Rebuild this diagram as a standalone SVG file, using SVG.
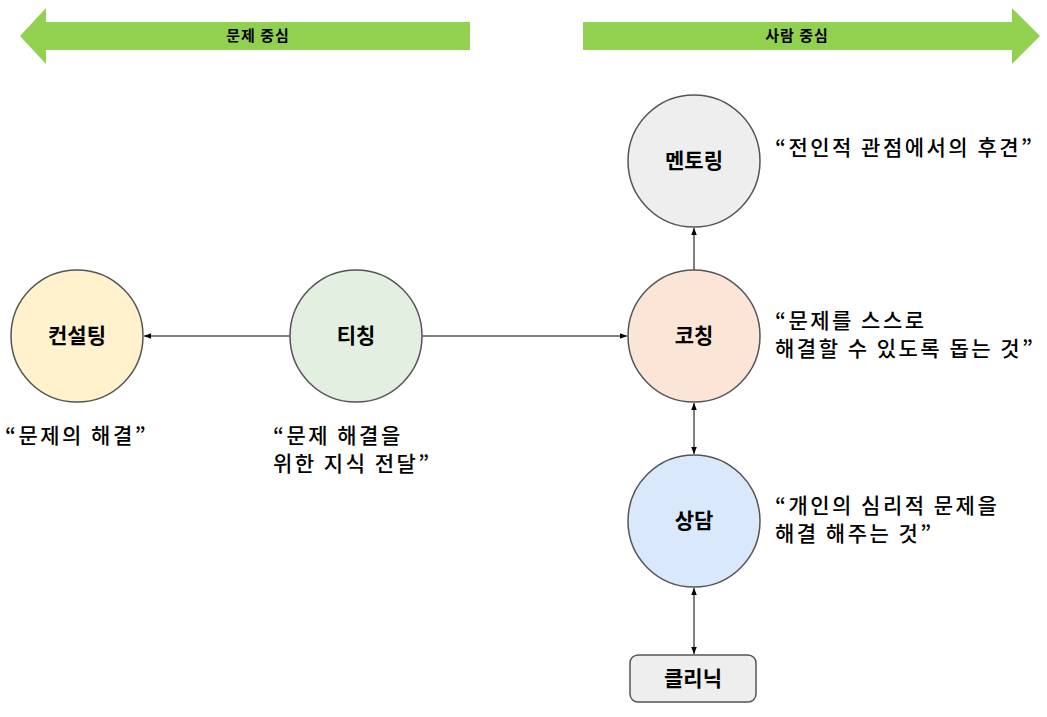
<svg xmlns="http://www.w3.org/2000/svg" width="1047" height="717" viewBox="0 0 1047 717">
<defs>
<marker id="ah" viewBox="0 0 10 10" refX="10" refY="5" markerWidth="7" markerHeight="7" orient="auto-start-reverse"><path d="M0,1 L10,5 L0,9 z" fill="#000"/></marker>
<style>
text{font-family:"Noto Sans CJK KR","Noto Sans",sans-serif;fill:#000}
.n{font-size:21px;font-weight:bold;text-anchor:middle}
.q{font-size:21px;letter-spacing:2.5px;font-weight:500}
.b{font-size:15px;font-weight:bold;text-anchor:middle;letter-spacing:1px}
.c{stroke:#555;stroke-width:1.5}
.e{stroke:#000;stroke-width:1;fill:none}
</style>
</defs>
<rect width="1047" height="717" fill="#fff"/>
<g id="band-left"><path d="M20,36 L46,8 L46,22 L470,22 L470,50 L46,50 L46,64 z" fill="#92d050"/><text class="b" x="258" y="41">문제 중심</text></g>
<g id="band-right"><path d="M1040,36 L1012,8 L1012,22 L583,22 L583,50 L1012,50 L1012,64 z" fill="#92d050"/><text class="b" x="797" y="41">사람 중심</text></g>
<g id="connectors">
<line class="e" x1="290" y1="336" x2="144" y2="336" marker-end="url(#ah)"/>
<line class="e" x1="422" y1="336" x2="627" y2="336" marker-end="url(#ah)"/>
<line class="e" x1="694" y1="270" x2="694" y2="228" marker-end="url(#ah)"/>
<line class="e" x1="694" y1="403" x2="694" y2="454" marker-start="url(#ah)" marker-end="url(#ah)"/>
<line class="e" x1="694" y1="588" x2="694" y2="654" marker-start="url(#ah)" marker-end="url(#ah)"/>
</g>
<g id="consulting"><circle class="c" cx="77" cy="336" r="66" fill="#fff2cc"/><text class="n" x="77" y="343">컨설팅</text><text class="q" x="5" y="443">“문제의 해결”</text></g>
<g id="teaching"><circle class="c" cx="356" cy="336" r="66" fill="#d5e8d4" fill-opacity="0.7"/><text class="n" x="356" y="343">티칭</text><text class="q" x="273" y="443">“문제 해결을</text><text class="q" x="273" y="471">위한 지식 전달”</text></g>
<g id="coaching"><circle class="c" cx="694" cy="336" r="66" fill="#fbe5d6"/><text class="n" x="694" y="343">코칭</text><text class="q" x="775" y="328">“문제를 스스로</text><text class="q" x="775" y="356">해결할 수 있도록 돕는 것”</text></g>
<g id="mentoring"><circle class="c" cx="694" cy="161" r="66" fill="#eeeeee"/><text class="n" x="694" y="168">멘토링</text><text class="q" x="775" y="155">“전인적 관점에서의 후견”</text></g>
<g id="counseling"><circle class="c" cx="694" cy="521" r="66" fill="#dae8fc"/><text class="n" x="694" y="528">상담</text><text class="q" x="775" y="513">“개인의 심리적 문제을</text><text class="q" x="775" y="541">해결 해주는 것”</text></g>
<g id="clinic"><rect class="c" x="630" y="655" width="126" height="47" rx="8" fill="#eeeeee"/><text class="n" x="693" y="686">클리닉</text></g>
</svg>
